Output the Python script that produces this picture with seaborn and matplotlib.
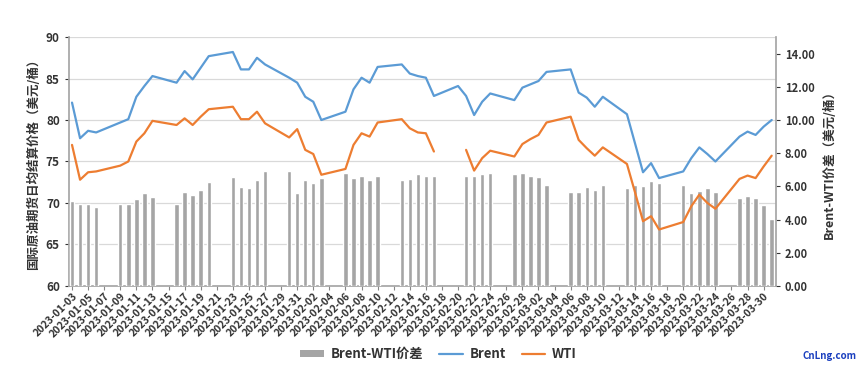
import numpy as np
import pandas as pd
import seaborn as sns
import matplotlib.pyplot as plt
from matplotlib.patches import Patch
from matplotlib.lines import Line2D

sns.set_theme(style='white')
plt.rcParams['font.family'] = ['Noto Sans CJK SC', 'DejaVu Sans']
plt.rcParams['axes.unicode_minus'] = False

# trading days
dates = ['2023-01-03', '2023-01-04', '2023-01-05', '2023-01-06', '2023-01-09', '2023-01-10',
         '2023-01-11', '2023-01-12', '2023-01-13', '2023-01-16', '2023-01-17', '2023-01-18',
         '2023-01-19', '2023-01-20', '2023-01-23', '2023-01-24', '2023-01-25', '2023-01-26',
         '2023-01-27', '2023-01-30', '2023-01-31',
         '2023-02-01', '2023-02-02', '2023-02-03', '2023-02-06', '2023-02-07', '2023-02-08',
         '2023-02-09', '2023-02-10', '2023-02-13', '2023-02-14', '2023-02-15', '2023-02-16',
         '2023-02-17', '2023-02-20', '2023-02-21', '2023-02-22', '2023-02-23', '2023-02-24',
         '2023-02-27', '2023-02-28',
         '2023-03-01', '2023-03-02', '2023-03-03', '2023-03-06', '2023-03-07', '2023-03-08',
         '2023-03-09', '2023-03-10', '2023-03-13', '2023-03-14', '2023-03-15', '2023-03-16',
         '2023-03-17', '2023-03-20', '2023-03-21', '2023-03-22', '2023-03-23', '2023-03-24',
         '2023-03-27', '2023-03-28', '2023-03-29', '2023-03-30', '2023-03-31']

brent = [82.1, 77.8, 78.7, 78.5, 79.7, 80.1, 82.8, 84.1, 85.3, 84.5, 85.9, 84.9, 86.3, 87.7,
         88.2, 86.1, 86.1, 87.5, 86.7, 85.1, 84.5,
         82.8, 82.2, 80.0, 81.0, 83.7, 85.1, 84.5, 86.4, 86.7, 85.6, 85.3, 85.1, 82.9, 84.1,
         82.9, 80.6, 82.2, 83.2, 82.4, 83.9,
         84.3, 84.7, 85.8, 86.1, 83.3, 82.7, 81.6, 82.8, 80.7, 77.2, 73.7, 74.8, 73.0, 73.8,
         75.4, 76.7, 75.9, 75.0, 78.0, 78.6, 78.2, 79.2, 80.0]

wti = [77.0, 72.8, 73.7, 73.8, 74.5, 75.0, 77.4, 78.4, 79.9, 79.4, 80.2, 79.4, 80.4, 81.3,
       81.6, 80.1, 80.1, 81.0, 79.6, 77.9, 78.9,
       76.4, 75.9, 73.4, 74.1, 77.0, 78.4, 78.0, 79.7, 80.1, 79.0, 78.5, 78.4, 76.2, np.nan,
       76.4, 73.9, 75.4, 76.3, 75.6, 77.1,
       77.7, 78.2, 79.7, 80.4, 77.6, 76.6, 75.7, 76.7, 74.7, 71.3, 67.8, 68.4, 66.8, 67.7,
       69.6, 71.0, 70.0, 69.3, 72.9, 73.3, 73.0, 74.4, 75.7]

spread = [5.14, 4.96, 4.96, 4.78, 4.96, 4.96, 5.24, 5.60, 5.38, 4.96, 5.68, 5.46, 5.78, 6.26,
          6.56, 5.96, 5.92, 6.40, 6.94, 6.94, 5.60,
          6.36, 6.22, 6.50, 6.80, 6.50, 6.60, 6.40, 6.64, 6.40, 6.44, 6.72, 6.60, 6.64, np.nan,
          6.64, 6.60, 6.76, 6.80, 6.72, 6.80,
          6.60, 6.56, 6.10, 5.68, 5.68, 5.96, 5.80, 6.06, 5.92, 6.08, 6.04, 6.32, 6.18, 6.08,
          5.60, 5.72, 5.92, 5.68, 5.28, 5.40, 5.28, 4.88, 4.06]

df = pd.DataFrame({'date': pd.to_datetime(dates), 'Brent': brent, 'WTI': wti, 'spread': spread})
start = df['date'].min()
df['day'] = (df['date'] - start).dt.days
# WTI line breaks where there is no quote
df['seg'] = df['WTI'].isna().cumsum()

c_brent = '#5B9BD5'
c_wti = '#ED7D31'
c_bar = '#A5A5A5'
c_txt = '#333333'

fig = plt.figure(figsize=(8.6, 3.67), dpi=100)
ax = fig.add_axes([0.080, 0.221, 0.822, 0.678])
ax2 = ax.twinx()
ax3 = ax.twinx()

# grid on base axis
ax.set_ylim(60, 90)
ax.set_yticks(np.arange(60, 91, 5))
ax.yaxis.grid(True, color='#D9D9D9', linewidth=0.9)
ax.set_axisbelow(True)

# spread bars on right axis
bars = df.dropna(subset=['spread'])
sns.barplot(data=bars, x='day', y='spread', native_scale=True, color=c_bar,
            saturation=1, width=0.55, ax=ax2)
ax2.set_ylim(0, 15)
ax2.set_yticks(np.arange(0, 15, 2))
ax2.set_yticklabels([f'{v:.2f}' for v in np.arange(0, 15, 2)])

# price lines
sns.lineplot(data=df, x='day', y='Brent', color=c_brent, linewidth=1.6, ax=ax3)
wti_df = df.dropna(subset=['WTI'])
sns.lineplot(data=wti_df, x='day', y='WTI', units='seg', estimator=None,
             color=c_wti, linewidth=1.6, ax=ax3)
ax3.set_ylim(60, 90)
ax3.set_yticks([])
ax3.set_ylabel('')
for s in ax3.spines.values():
    s.set_visible(False)

xticks = np.arange(0, 87, 2)
ax.set_xlim(-0.4, 87.5)
ax.set_xticks(xticks)
ax.set_xticklabels([(start + pd.Timedelta(days=int(d))).strftime('%Y-%m-%d') for d in xticks],
                   rotation=45, ha='right', rotation_mode='anchor', fontsize=7.5,
                   fontweight='bold', color=c_txt)
ax.set_xlabel('')
ax2.set_xlabel('')
ax3.set_xlabel('')

ax.tick_params(axis='y', labelsize=8.5, colors=c_txt, length=3, left=True, width=0.8)
ax.tick_params(axis='x', length=3, bottom=True, width=0.8, colors='#888888', labelcolor=c_txt, pad=1)
for lab in ax.get_yticklabels():
    lab.set_fontweight('bold')
ax2.tick_params(axis='y', labelsize=8, colors=c_txt, length=3, right=True, width=0.8)
for lab in ax2.get_yticklabels():
    lab.set_fontweight('bold')

for a in (ax, ax2):
    a.spines['top'].set_visible(False)
    for k in ('left', 'right', 'bottom'):
        a.spines[k].set_color('#A6A6A6')
ax.spines['right'].set_visible(False)
ax2.spines['left'].set_visible(False)
ax2.spines['bottom'].set_visible(False)

ax.set_ylabel('国际原油期货日均结算价格（美元/桶）', fontsize=9, fontweight='bold',
              color=c_txt, labelpad=4)
ax2.set_ylabel('Brent-WTI价差（美元/桶）', fontsize=9, fontweight='bold',
               color=c_txt, labelpad=6)

handles = [Patch(facecolor=c_bar, edgecolor='none'),
           Line2D([0], [0], color=c_brent, linewidth=1.6),
           Line2D([0], [0], color=c_wti, linewidth=1.6)]
fig.legend(handles, ['Brent-WTI价差', 'Brent', 'WTI'], loc='center', ncol=3,
           bbox_to_anchor=(0.51, 0.035), frameon=False,
           prop={'size': 9.5, 'weight': 'bold'}, handlelength=1.8, columnspacing=1.2,
           handletextpad=0.5, handleheight=0.55, labelcolor=c_txt)

fig.text(0.965, 0.03, 'CnLng.com', ha='center', va='center', fontsize=7,
         color='#1A3FBF', fontweight='bold', fontstyle='italic')

fig.savefig('out.png', dpi=100)
